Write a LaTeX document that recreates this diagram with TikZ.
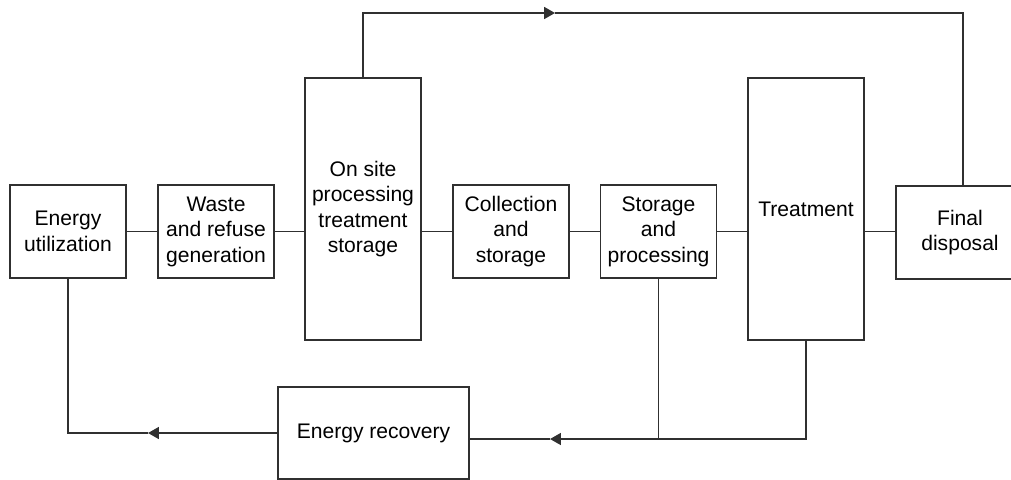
\documentclass[tikz,border=0pt]{standalone}
\usepackage{fontspec}
\setmainfont{Liberation Sans}
\usetikzlibrary{arrows.meta}
\definecolor{flowgray}{HTML}{303030}

\begin{document}
\begin{tikzpicture}[x=0.02cm,y=-0.02cm,
  box/.style={draw=flowgray,line width=0.9pt,align=center,inner sep=0pt,
    font=\fontsize{12}{14.5}\selectfont},
  smallbox/.style={box,minimum width=2.32cm,minimum height=1.86cm},
  tallbox/.style={box,minimum width=2.32cm,minimum height=5.24cm},
  link/.style={draw=flowgray,line width=0.9pt},
  tip/.style={link,-{Triangle[length=6.2pt,width=6.8pt]}}]
  \useasboundingbox (0,0) rectangle (1011,480);
  % main chain
  \node[smallbox] (eu) at (68,231.5) {Energy\\utilization};
  \node[smallbox] (wrg) at (216,231.5) {Waste\\and refuse\\generation};
  \node[tallbox] (onsite) at (363,209) {On site\\processing\\treatment\\storage};
  \node[smallbox] (coll) at (511,231.5) {Collection\\and\\storage};
  \node[smallbox] (sp) at (658.5,231.5) {Storage\\and\\processing};
  \node[tallbox] (treat) at (806,209) {Treatment};
  \node[smallbox,minimum width=2.56cm] (final) at (960,232.5) {Final\\disposal};
  \node[box,minimum width=3.82cm,minimum height=1.84cm] (er) at (373.5,433) {Energy recovery};
  \draw[link] (eu) -- (wrg);
  \draw[link] (wrg) -- (wrg -| onsite.west);
  \draw[link] (coll -| onsite.east) -- (coll);
  \draw[link] (coll) -- (sp);
  \draw[link] (sp) -- (sp -| treat.west);
  \draw[link] (sp -| treat.east) -- (sp -| final.west);
  % top loop
  \coordinate (topturn) at (555,13);
  \coordinate (topright) at (963,13);
  \draw[tip] (onsite.north) |- (topturn);
  \draw[link] (topturn) -- (topright) -- (topright |- final.north);
  % recovery loop
  \coordinate (botjoin) at (658.5,439);
  \coordinate (botarrow) at (550,439);
  \coordinate (leftarrow) at (148,433);
  \draw[link] (treat.south) |- (botjoin);
  \draw[link] (sp.south) -- (botjoin);
  \draw[tip] (botjoin) -- (botarrow);
  \draw[link] (botarrow) -- (botarrow -| er.east);
  \draw[tip] (er.west) -- (leftarrow);
  \draw[link] (leftarrow) -| (eu.south);
\end{tikzpicture}
\end{document}
